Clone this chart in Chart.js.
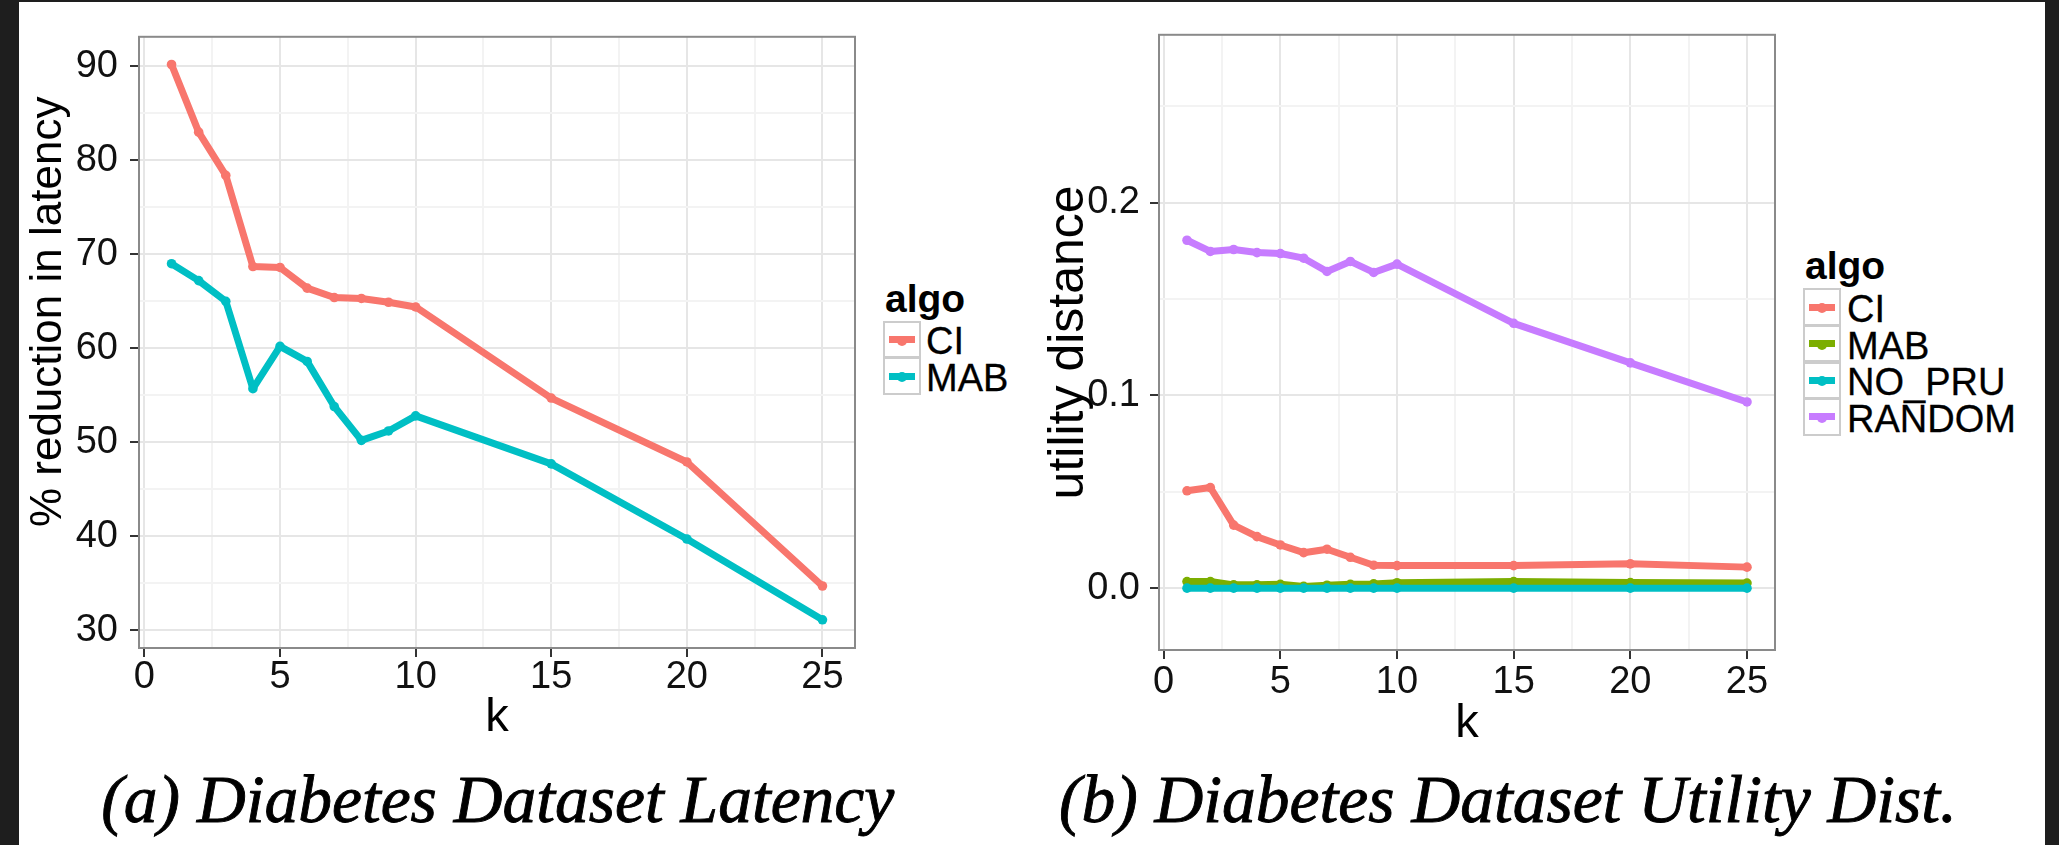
<!DOCTYPE html>
<html>
<head>
<meta charset="utf-8">
<script src="https://cdn.jsdelivr.net/npm/chart.js@4.4.1/dist/chart.umd.min.js"></script>
<style>
html,body{margin:0;padding:0;background:#1e1e1e;}
body{width:2059px;height:845px;position:relative;overflow:hidden;font-family:'Liberation Sans',Arial,sans-serif;}
#page{position:absolute;left:19px;top:2px;width:2026px;height:843px;background:#fff;}
canvas{position:absolute;}
.lg-title{position:absolute;font-weight:bold;font-size:39px;line-height:1;color:#000;white-space:nowrap;}
.lg-key{position:absolute;box-sizing:border-box;border:2px solid #cccccc;background:#fff;}
.lg-line{position:absolute;left:4px;right:4px;top:50%;height:7px;margin-top:-3.5px;}
.lg-dot{position:absolute;left:50%;top:50%;width:10px;height:10px;margin:-4px 0 0 -5px;border-radius:50%;}
.lg-text{position:absolute;font-size:38px;line-height:1;color:#000;white-space:nowrap;-webkit-text-stroke:0.3px #000;}
.caption{position:absolute;font-family:'Liberation Serif','Times New Roman',serif;font-style:italic;font-size:67.5px;line-height:1;color:#000;text-align:center;white-space:nowrap;width:1200px;-webkit-text-stroke:0.9px #000;}
</style>
</head>
<body>
<div id="page"></div>
<canvas id="c1" width="850" height="746" style="left:20px;top:2px"></canvas>
<canvas id="c2" width="755" height="750" style="left:1030px;top:2px"></canvas>
<script>
// ---------- data ----------
const kValues = [1, 2, 3, 4, 5, 6, 7, 8, 9, 10, 15, 20, 25];

const latencyCI  = [90.2, 83.0, 78.4, 68.7, 68.6, 66.4, 65.4, 65.3, 64.9, 64.4, 54.7, 47.9, 34.7];
const latencyMAB = [69.0, 67.2, 65.0, 55.7, 60.2, 58.6, 53.8, 50.2, 51.2, 52.8, 47.7, 39.7, 31.1];

const utilityCI     = [0.0505, 0.0522, 0.0327, 0.0267, 0.0224, 0.0184, 0.0202, 0.0160, 0.0119, 0.0117, 0.0117, 0.0126, 0.0109];
const utilityMAB    = [0.0034, 0.0034, 0.0017, 0.0017, 0.0020, 0.0009, 0.0015, 0.0020, 0.0022, 0.0028, 0.0034, 0.0029, 0.0026];
const utilityNOPRU  = [0, 0, 0, 0, 0, 0, 0, 0, 0, 0, 0, 0, 0];
const utilityRANDOM = [0.1805, 0.1747, 0.1757, 0.1741, 0.1736, 0.1712, 0.1643, 0.1695, 0.1638, 0.1681, 0.1374, 0.1169, 0.0966];

const latencyAlgos = ['CI', 'MAB'];
const utilityAlgos = ['CI', 'MAB', 'NO_PRU', 'RANDOM'];

const xMajorTicks = [0, 5, 10, 15, 20, 25];
const xMinorTicks = [2.5, 7.5, 12.5, 17.5, 22.5];
const latencyMajorTicks = [30, 40, 50, 60, 70, 80, 90];
const latencyMinorTicks = [35, 45, 55, 65, 75, 85];
const utilityMajorTicks = [0, 0.1, 0.2];
const utilityMinorTicks = [0.05, 0.15, 0.25];

const legendTitle = 'algo';
const captionA = '(a) Diabetes Dataset Latency';
const captionB = '(b) Diabetes Dataset Utility Dist.';

// ---------- style ----------
const colorsLatency = ['#F8766D', '#00BFC4'];
const colorsUtility = ['#F8766D', '#7CAE00', '#00BFC4', '#C77CFF'];
const GRID_MAJOR = '#e6e6e6';
const GRID_MINOR = '#f3f3f3';
const TICK_COLOR = '#333333';

Chart.defaults.font.family = "'Liberation Sans', Arial, sans-serif";

function isIn(v, arr) { return arr.some(a => Math.abs(a - v) < 1e-9); }

const framePlugin = {
  id: 'frame',
  afterDatasetsDraw(chart) {
    const { ctx, chartArea: a } = chart;
    ctx.save();
    ctx.strokeStyle = '#8a8a8a';
    ctx.lineWidth = 2;
    ctx.strokeRect(a.left, a.top, a.right - a.left, a.bottom - a.top);
    ctx.restore();
  }
};

function makeDatasets(names, seriesList, colors) {
  return names.map((name, i) => ({
    label: name,
    data: kValues.map((x, j) => ({ x: x, y: seriesList[i][j] })),
    borderColor: colors[i],
    backgroundColor: colors[i],
    pointBackgroundColor: colors[i],
    pointBorderColor: colors[i],
    pointBorderWidth: 0,
    pointRadius: 4.8,
    borderWidth: 7,
    borderCapStyle: 'butt',
    borderJoinStyle: 'round',
    tension: 0,
    fill: false,
    order: names.length - i
  }));
}

function gridOpts(majors) {
  return {
    drawTicks: true,
    tickLength: 9,
    color: c => isIn(c.tick.value, majors) ? GRID_MAJOR : GRID_MINOR,
    lineWidth: 2,
    tickColor: c => isIn(c.tick.value, majors) ? TICK_COLOR : 'rgba(0,0,0,0)',
    tickWidth: 2
  };
}

function makeChart(id, cfg) {
  return new Chart(document.getElementById(id), {
    type: 'line',
    data: { datasets: makeDatasets(cfg.names, cfg.series, cfg.colors) },
    options: {
      responsive: false,
      animation: false,
      events: [],
      devicePixelRatio: 1,
      layout: { padding: cfg.padding },
      plugins: { legend: { display: false }, tooltip: { enabled: false } },
      scales: {
        x: {
          type: 'linear',
          min: -0.2,
          max: 26.2,
          afterBuildTicks: ax => { ax.ticks = xMajorTicks.concat(xMinorTicks).sort((a, b) => a - b).map(v => ({ value: v })); },
          afterFit: s => { s.height = cfg.xHeight; },
          ticks: {
            autoSkip: false, maxRotation: 0, minRotation: 0,
            padding: cfg.xTickPad, color: '#111', font: { size: 38, lineHeight: 1 },
            callback: v => isIn(v, xMajorTicks) ? String(v) : ''
          },
          grid: gridOpts(xMajorTicks),
          border: { display: false },
          title: { display: true, text: 'k', color: '#000', font: { size: 47 }, padding: { top: 0, bottom: cfg.xTitlePad } }
        },
        y: {
          type: 'linear',
          min: cfg.yMin,
          max: cfg.yMax,
          afterBuildTicks: ax => { ax.ticks = cfg.yMajor.concat(cfg.yMinor).sort((a, b) => a - b).map(v => ({ value: v })); },
          afterFit: s => { s.width = cfg.yWidth; },
          ticks: {
            autoSkip: false, padding: cfg.yTickPad, color: '#111', font: { size: 38 },
            callback: v => isIn(v, cfg.yMajor) ? cfg.fmt(v) : ''
          },
          grid: gridOpts(cfg.yMajor),
          border: { display: false },
          title: { display: true, text: cfg.yTitle, color: '#000', font: { size: cfg.yTitleSize }, padding: { top: cfg.yTitlePad, bottom: 0 } }
        }
      }
    },
    plugins: [framePlugin]
  });
}

makeChart('c1', {
  names: latencyAlgos, series: [latencyCI, latencyMAB], colors: colorsLatency,
  padding: { top: 30, right: 15, bottom: 0, left: 0 },
  xHeight: 100, xTickPad: 2, xTitlePad: 1.5,
  yMin: 28.1, yMax: 93.15, yMajor: latencyMajorTicks, yMinor: latencyMinorTicks,
  yWidth: 119, yTickPad: 12, fmt: v => String(v),
  yTitle: '     % reduction in latency', yTitleSize: 44, yTitlePad: 2.3
});

makeChart('c2', {
  names: utilityAlgos, series: [utilityCI, utilityMAB, utilityNOPRU, utilityRANDOM], colors: colorsUtility,
  padding: { top: 31, right: 10, bottom: 0, left: 0 },
  xHeight: 102, xTickPad: 5, xTitlePad: 0,
  yMin: -0.0321, yMax: 0.2871, yMajor: utilityMajorTicks, yMinor: utilityMinorTicks,
  yWidth: 129, yTickPad: 10, fmt: v => v.toFixed(1),
  yTitle: 'utility distance', yTitleSize: 50, yTitlePad: 9
});

// ---------- legends ----------
function makeLegend(x, titleBaseline, keyTop, keyH, textX, names, colors) {
  const body = document.body;
  const t = document.createElement('div');
  t.className = 'lg-title';
  t.textContent = legendTitle;
  t.style.left = x + 'px';
  t.style.top = (titleBaseline - 0.8465 * 39) + 'px';
  body.appendChild(t);
  names.forEach((name, i) => {
    const top = keyTop + i * keyH;
    const key = document.createElement('div');
    key.className = 'lg-key';
    key.style.left = (x - 2) + 'px';
    key.style.top = (top - 1) + 'px';
    key.style.width = '38px';
    key.style.height = (keyH + 1) + 'px';
    const line = document.createElement('div');
    line.className = 'lg-line';
    line.style.background = colors[i];
    const dot = document.createElement('div');
    dot.className = 'lg-dot';
    dot.style.background = colors[i];
    key.appendChild(line);
    key.appendChild(dot);
    body.appendChild(key);
    const tx = document.createElement('div');
    tx.className = 'lg-text';
    tx.textContent = name;
    tx.style.left = textX + 'px';
    tx.style.top = (top + keyH / 2 + 1 - 0.4885 * 38) + 'px';
    body.appendChild(tx);
  });
}
makeLegend(885, 311.7, 321.7, 36.7, 926, latencyAlgos, colorsLatency);
makeLegend(1805, 279.3, 289.3, 36.6, 1847, utilityAlgos, colorsUtility);

// ---------- captions ----------
function makeCaption(text, centerX, baseline) {
  const d = document.createElement('div');
  d.className = 'caption';
  d.textContent = text;
  d.style.left = (centerX - 600) + 'px';
  d.style.top = (baseline - 0.8375 * 67.5) + 'px';
  document.body.appendChild(d);
}
makeCaption(captionA, 497.8, 823);
makeCaption(captionB, 1508, 823);
</script>
</body>
</html>
